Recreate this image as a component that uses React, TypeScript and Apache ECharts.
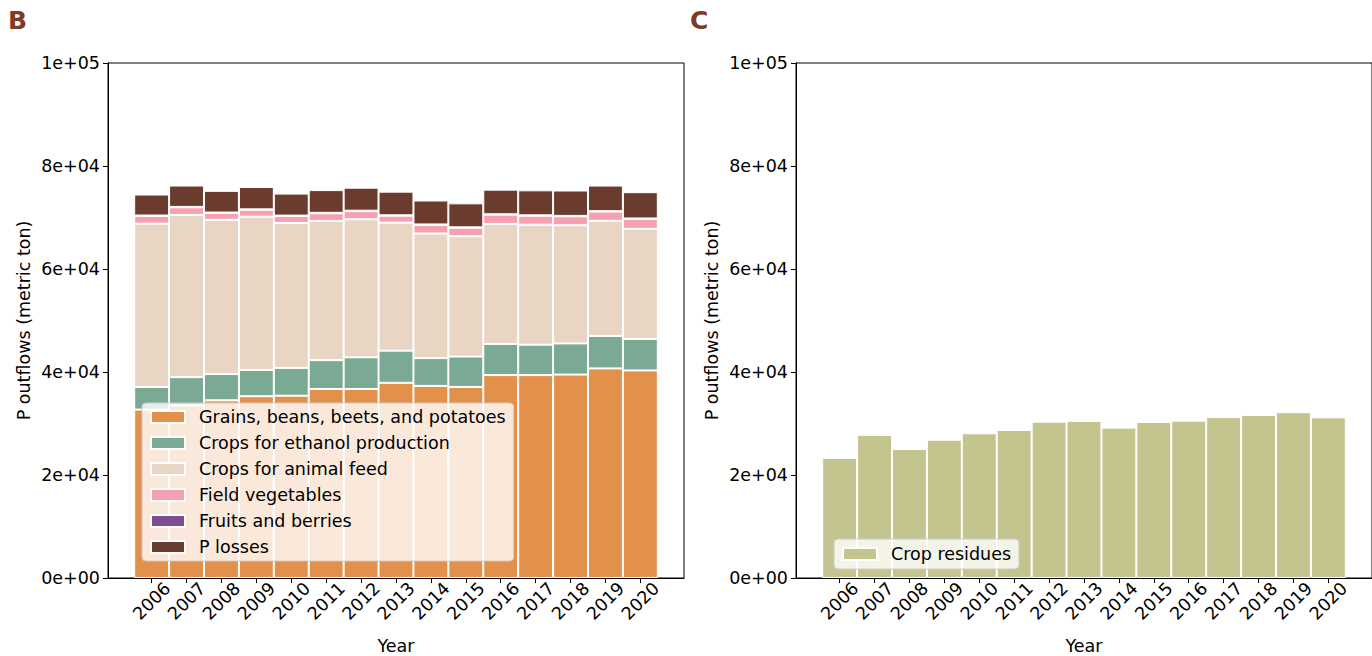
import React, { useEffect, useRef } from "react";
import * as echarts from "echarts";

const years = [2006, 2007, 2008, 2009, 2010, 2011, 2012, 2013, 2014, 2015, 2016, 2017, 2018, 2019, 2020];

const grains = [32700, 33500, 34500, 35300, 35400, 36700, 36700, 37900, 37300, 37100, 39400, 39400, 39500, 40700, 40300];
const ethanol = [4400, 5500, 5100, 5100, 5400, 5600, 6150, 6250, 5400, 5900, 6050, 5900, 6050, 6300, 6100];
const animalFeed = [31700, 31500, 29950, 29750, 28150, 27000, 26800, 24850, 24200, 23350, 23300, 23300, 22950, 22350, 21400];
const vegetables = [1500, 1480, 1340, 1350, 1340, 1530, 1590, 1350, 1670, 1660, 1800, 1740, 1730, 1800, 1930];
const fruits = [80, 80, 80, 80, 80, 80, 80, 80, 80, 80, 80, 80, 80, 80, 80];
const pLosses = [4080, 4150, 4200, 4340, 4270, 4410, 4470, 4590, 4650, 4660, 4780, 4860, 4930, 4970, 5110];

const cropResidues = [23300, 27800, 25050, 26850, 28100, 28750, 30350, 30500, 29200, 30300, 30550, 31250, 31650, 32200, 31200];

const leftSeries = [
  { name: "Grains, beans, beets, and potatoes", values: grains, color: "#E3904A" },
  { name: "Crops for ethanol production", values: ethanol, color: "#7AAA93" },
  { name: "Crops for animal feed", values: animalFeed, color: "#E9D5C3" },
  { name: "Field vegetables", values: vegetables, color: "#F6A0B1" },
  { name: "Fruits and berries", values: fruits, color: "#7E4E8F" },
  { name: "P losses", values: pLosses, color: "#6B3C2E" },
];

const FONT = "DejaVu Sans";
const FS = 17.5;

function sci(v: number): string {
  if (v === 0) return "0e+00";
  const e = Math.floor(Math.log10(Math.abs(v)) + 1e-9);
  const m = Math.round(v / Math.pow(10, e));
  return `${m}e+${String(e).padStart(2, "0")}`;
}

function xAxisCfg(gridIndex: number) {
  return {
    type: "value",
    gridIndex,
    min: 2004.75,
    max: 2021.25,
    name: "Year",
    nameLocation: "middle",
    nameGap: 59,
    nameTextStyle: { fontFamily: FONT, fontSize: FS, color: "#000" },
    axisLine: { show: true, lineStyle: { color: "#000", width: 1 } },
    axisTick: { show: true, length: 5, customValues: years, lineStyle: { color: "#000" } },
    axisLabel: {
      customValues: years,
      rotate: 45,
      align: "center",
      verticalAlign: "middle",
      margin: 23,
      fontFamily: FONT,
      fontSize: FS,
      color: "#000",
      formatter: (v: number) => String(Math.round(v)),
    },
    splitLine: { show: false },
  };
}

function yAxisCfg(gridIndex: number) {
  return {
    type: "value",
    gridIndex,
    min: 0,
    max: 100000,
    interval: 20000,
    name: "P outflows (metric ton)",
    nameLocation: "middle",
    nameGap: 75,
    nameTextStyle: { fontFamily: FONT, fontSize: FS, color: "#000" },
    axisLine: { show: true, lineStyle: { color: "#000", width: 1 } },
    axisTick: { show: true, length: 5, lineStyle: { color: "#000" } },
    axisLabel: { fontFamily: FONT, fontSize: FS, color: "#000", margin: 8, formatter: sci },
    splitLine: { show: false },
  };
}

const legendBase = {
  orient: "vertical",
  itemWidth: 34,
  itemHeight: 12,
  itemGap: 6,
  icon: "rect",
  backgroundColor: "rgba(255,255,255,0.8)",
  borderColor: "#cccccc",
  borderWidth: 1,
  borderRadius: 4,
  selectedMode: false,
  textStyle: { fontFamily: FONT, fontSize: FS, color: "#000", lineHeight: 20, padding: [0, 0, 0, 9] },
};

export default function App() {
  const ref = useRef<HTMLDivElement>(null);

  useEffect(() => {
    if (!ref.current) return;
    const chart = echarts.init(ref.current, null, { renderer: "svg" });

    const series: any[] = leftSeries.map((s) => ({
      type: "bar",
      name: s.name,
      xAxisIndex: 0,
      yAxisIndex: 0,
      stack: "left",
      barWidth: "100%",
      encode: { x: 1, y: 0 },
      itemStyle: { color: s.color, borderColor: "#ffffff", borderWidth: 1 },
      data: years.map((y, i) => [s.values[i], y]),
    }));
    series.push({
      type: "bar",
      name: "Crop residues",
      xAxisIndex: 1,
      yAxisIndex: 1,
      barWidth: "100%",
      encode: { x: 1, y: 0 },
      itemStyle: { color: "#C4C48E", borderColor: "#ffffff", borderWidth: 1 },
      data: years.map((y, i) => [cropResidues[i], y]),
    });

    chart.setOption({
      animation: false,
      backgroundColor: "#ffffff",
      title: [
        { text: "B", left: 3, top: 3, textStyle: { fontFamily: FONT, fontSize: 25, fontWeight: "bold", color: "#7F3B24" } },
        { text: "C", left: 685, top: 3, textStyle: { fontFamily: FONT, fontSize: 25, fontWeight: "bold", color: "#7F3B24" } },
      ],
      grid: [
        { left: 108, top: 63, width: 576, height: 515, show: true, borderColor: "#000", borderWidth: 1, backgroundColor: "transparent", containLabel: false, outerBoundsMode: "none" },
        { left: 796, top: 63, width: 576, height: 515, show: true, borderColor: "#000", borderWidth: 1, backgroundColor: "transparent", containLabel: false, outerBoundsMode: "none" },
      ],
      xAxis: [xAxisCfg(0), xAxisCfg(1)],
      yAxis: [yAxisCfg(0), yAxisCfg(1)],
      legend: [
        {
          ...legendBase,
          data: leftSeries.map((s) => s.name),
          left: 142,
          top: 403,
          padding: [4, 8, 4, 8],
        },
        {
          ...legendBase,
          data: ["Crop residues"],
          left: 834,
          top: 539,
          padding: [5, 8, 5, 8],
        },
      ],
      series,
    });

    return () => chart.dispose();
  }, []);

  return (
    <div
      ref={ref}
      style={{ position: "fixed", left: 0, top: 0, width: 1372, height: 656 }}
    />
  );
}
